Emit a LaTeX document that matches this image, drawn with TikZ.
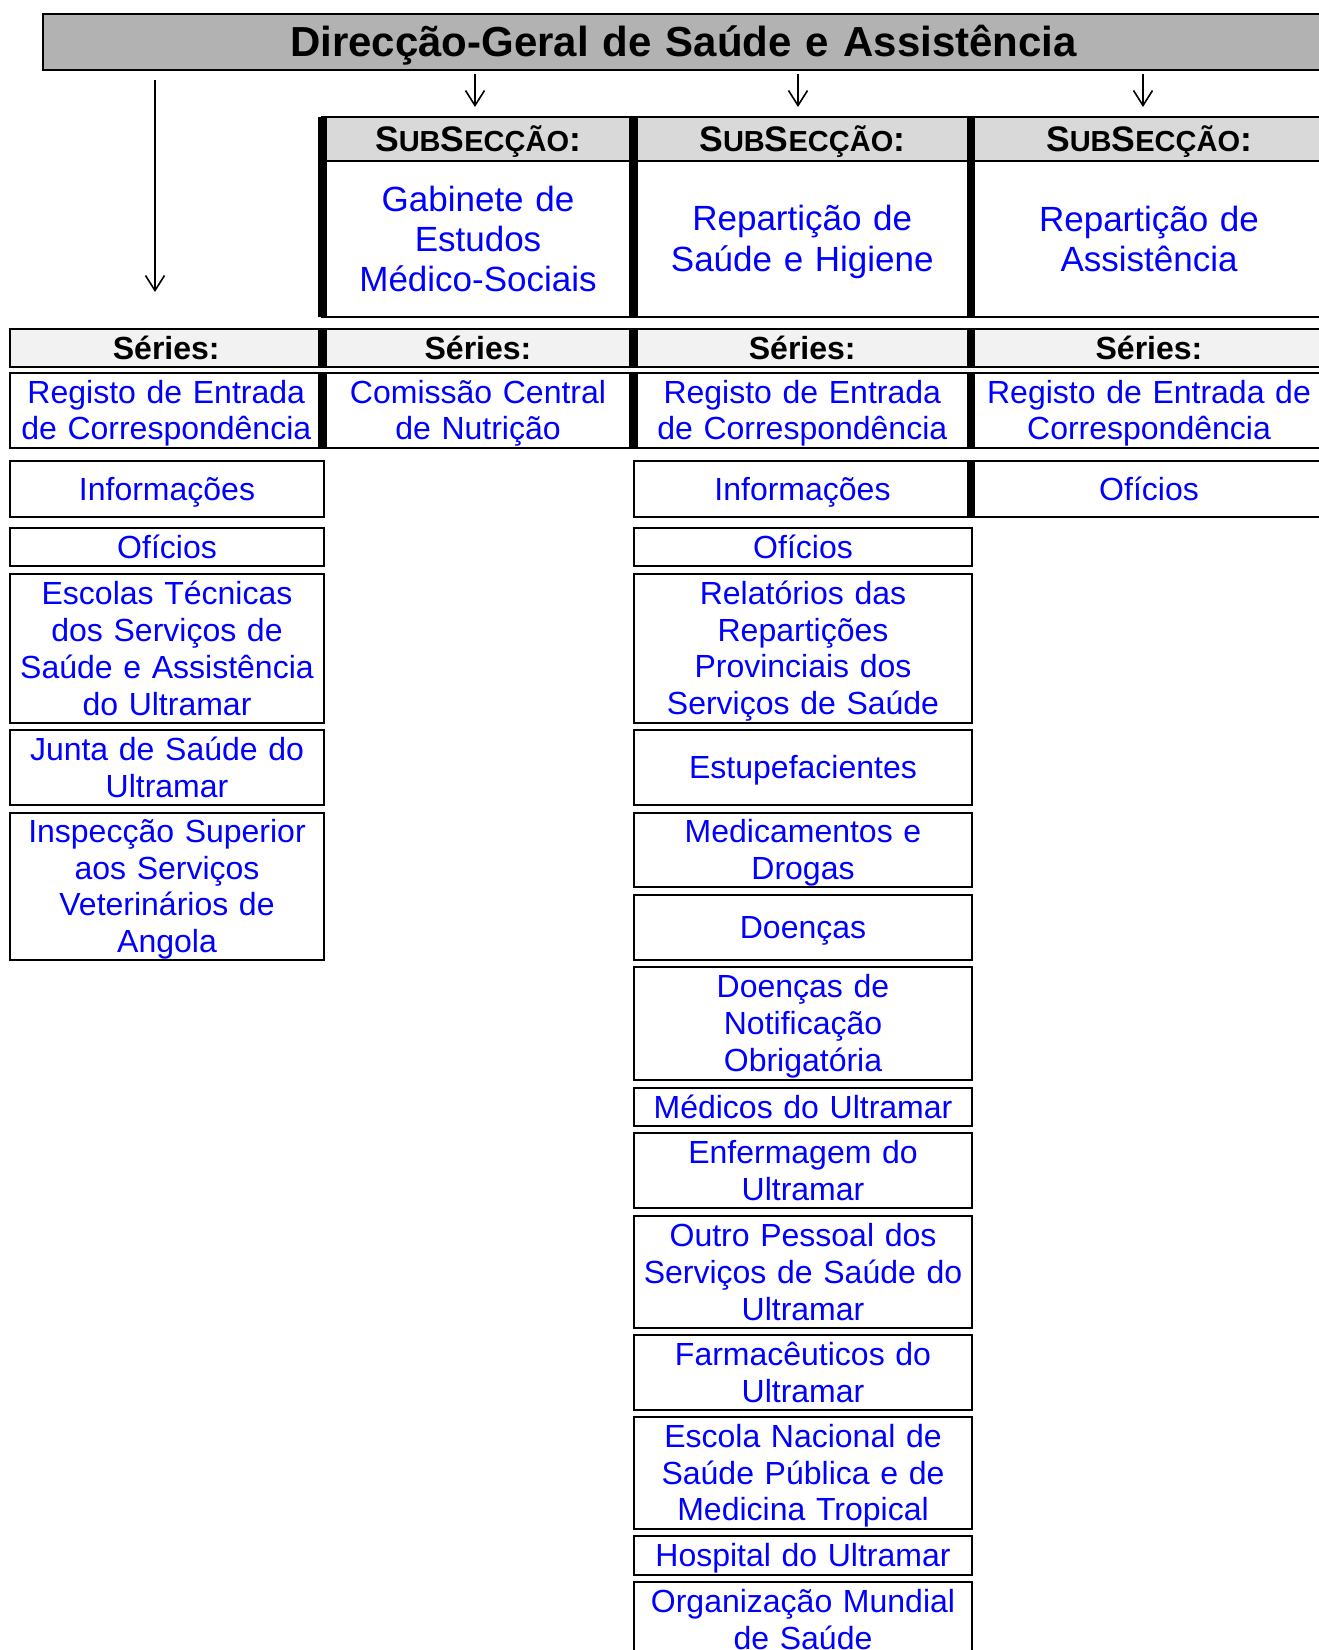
\documentclass[tikz,border=0pt]{standalone}
\usepackage{fontspec}
\setmainfont{Liberation Sans}
\usetikzlibrary{arrows.meta}
\definecolor{titlegray}{gray}{0.70}
\definecolor{headgray}{gray}{0.85}
\definecolor{seriesgray}{gray}{0.95}
\newcommand\bodyfont{\fontsize{32}{36.8}\selectfont}
\newcommand\subfont{\fontsize{35}{40.25}\selectfont}
\newcommand\topstrut{\rule{0pt}{0.9em}}
\newcommand\botstrut{\rule[-0.19em]{0pt}{0.19em}}
\newcommand\subsechead{S{\fontsize{29}{30}\selectfont UB}S{\fontsize{29}{30}\selectfont ECÇÃO}:}
\newcommand\cellbox[7][]{%
  \pgfmathsetmacro\cbw{#5-#3}%
  \pgfmathsetmacro\cbh{#6-#4}%
  \pgfmathsetmacro\cbx{(#3+#5)/2}%
  \pgfmathsetmacro\cby{(#4+#6)/2}%
  \pgfmathsetmacro\cbt{#5-#3-4}%
  \node[cell,minimum width=\cbw pt,minimum height=\cbh pt,text width=\cbt pt,#1] (#2) at (\cbx,\cby) {#7};%
}
\tikzset{
  cell/.style={draw, line width=2.2pt, inner sep=0pt, outer sep=0pt, align=center,
    text=blue, font=\bodyfont, execute at begin node=\topstrut, execute at end node=\botstrut},
  titlecell/.style={fill=titlegray, text=black, font=\fontsize{42}{48}\selectfont\bfseries},
  headcell/.style={fill=headgray, text=black, font=\fontsize{35.5}{40}\selectfont\bfseries},
  subcell/.style={font=\subfont},
  seriescell/.style={fill=seriesgray, text=black, font=\bodyfont\bfseries},
  thicksep/.style={line width=8.5pt},
  conn/.style={line width=1.6pt, -{Straight Barb[length=15pt,width=19pt]}}
}
\begin{document}
\begin{tikzpicture}[x=1pt,y=-1pt]
\useasboundingbox (0,0) rectangle (1319,1650);
\clip (0,0) rectangle (1319,1650);
% title
\cellbox[titlecell]{title}{43}{14}{1324}{70}{Direcção-Geral de Saúde e Assistência}
% subsection table
\cellbox[headcell]{h2}{322.5}{117}{633.5}{161}{\subsechead}
\cellbox[headcell]{h3}{633.5}{117}{971}{161}{\subsechead}
\cellbox[headcell]{h4}{971}{117}{1327}{161}{\subsechead}
\cellbox[subcell]{s2}{322.5}{161}{633.5}{317}{Gabinete de\\Estudos\\Médico-Sociais}
\cellbox[subcell]{s3}{633.5}{161}{971}{317}{Repartição de\\Saúde e Higiene}
\cellbox[subcell]{s4}{971}{161}{1327}{317}{Repartição de\\Assistência}
\foreach \xx in {322.5,633.5,971} \draw[thicksep] (\xx,117) -- (\xx,317);
% series header row
\cellbox[seriescell]{r1}{10}{329}{322.5}{367}{Séries:}
\cellbox[seriescell]{r2}{322.5}{329}{633.5}{367}{Séries:}
\cellbox[seriescell]{r3}{633.5}{329}{971}{367}{Séries:}
\cellbox[seriescell]{r4}{971}{329}{1327}{367}{Séries:}
% first series row
\cellbox{g1}{10}{373}{322.5}{448}{Registo de Entrada\\de Correspondência}
\cellbox{g2}{322.5}{373}{633.5}{448}{Comissão Central\\de Nutrição}
\cellbox{g3}{633.5}{373}{971}{448}{Registo de Entrada\\de Correspondência}
\cellbox{g4}{971}{373}{1327}{448}{Registo de Entrada de\\Correspondência}
\foreach \xx in {322.5,633.5,971} {
  \draw[thicksep] (\xx,329) -- (\xx,367);
  \draw[thicksep] (\xx,373) -- (\xx,448);
}
% third row
\cellbox{i1}{10}{461}{324}{517}{Informações}
\cellbox{i3}{634}{461}{971}{517}{Informações}
\cellbox{i4}{971}{461}{1327}{517}{Ofícios}
\draw[thicksep] (971,461) -- (971,517);
% column 1
\cellbox{o1}{10}{528}{324}{566}{Ofícios}
\cellbox{e1}{10}{574}{324}{723}{Escolas Técnicas\\dos Serviços de\\Saúde e Assistência\\do Ultramar}
\cellbox{j1}{10}{730}{324}{805}{Junta de Saúde do\\Ultramar}
\cellbox{p1}{10}{813}{324}{960}{Inspecção Superior\\aos Serviços\\Veterinários de\\Angola}
% column 3
\cellbox{o3}{634}{528}{972}{566}{Ofícios}
\cellbox{c1}{634}{574}{972}{723}{Relatórios das\\Repartições\\Provinciais dos\\Serviços de Saúde}
\cellbox{c2}{634}{730}{972}{805}{Estupefacientes}
\cellbox{c3}{634}{813}{972}{887}{Medicamentos e\\Drogas}
\cellbox{c4}{634}{895}{972}{960}{Doenças}
\cellbox{c5}{634}{967}{972}{1080}{Doenças de\\Notificação\\Obrigatória}
\cellbox{c6}{634}{1088}{972}{1126}{Médicos do Ultramar}
\cellbox{c7}{634}{1133}{972}{1208}{Enfermagem do\\Ultramar}
\cellbox{c8}{634}{1216}{972}{1328}{Outro Pessoal dos\\Serviços de Saúde do\\Ultramar}
\cellbox{c9}{634}{1335}{972}{1410}{Farmacêuticos do\\Ultramar}
\cellbox{c10}{634}{1417}{972}{1529}{Escola Nacional de\\Saúde Pública e de\\Medicina Tropical}
\cellbox{c11}{634}{1536}{972}{1575}{Hospital do Ultramar}
\cellbox{c12}{634}{1582}{972}{1657}{Organização Mundial\\de Saúde}
% connectors
\coordinate (t1) at (155,292);
\coordinate (t2) at (475,107);
\coordinate (t3) at (798,107);
\coordinate (t4) at (1143,107);
\draw[conn, shorten <=10pt] (title.south -| t1) -- (t1);
\draw[conn, shorten <=4pt] (title.south -| t2) -- (t2);
\draw[conn, shorten <=4pt] (title.south -| t3) -- (t3);
\draw[conn, shorten <=4pt] (title.south -| t4) -- (t4);
\end{tikzpicture}
\end{document}
